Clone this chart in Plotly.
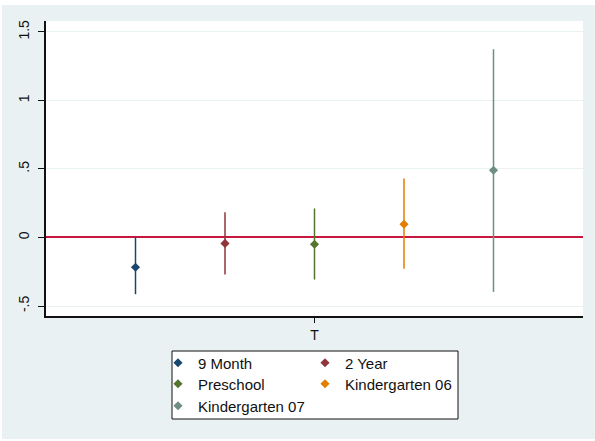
"""Coefficient plot: effect of T across survey waves (Stata coefplot style)."""

import plotly.graph_objects as go

# data
models = ["9 Month", "2 Year", "Preschool", "Kindergarten 06", "Kindergarten 07"]
estimates = [-0.217, -0.043, -0.049, 0.097, 0.491]
ci_low = [-0.414, -0.270, -0.307, -0.229, -0.397]
ci_high = [0.000, 0.184, 0.212, 0.430, 1.374]
colors = ["#1a476f", "#90353b", "#55752f", "#e37e00", "#6e8e84"]
coef_labels = ["T"]
ytick_vals = [-0.5, 0, 0.5, 1, 1.5]
ytick_text = ["-.5", "0", ".5", "1", "1.5"]

FONT = "Liberation Sans, Arial, sans-serif"
BG = "#eaf1f3"
W, H = 595, 441
L, R, T, B = 46, 12, 21, 125

# legend rows: each row gets its own legend so the two columns line up
legend_rows = ["legend", "legend", "legend2", "legend2", "legend3"]

fig = go.Figure()
n = len(models)
for i, name in enumerate(models):
    offset = i - (n - 1) / 2
    fig.add_trace(
        go.Scatter(
            x=[offset],
            y=[estimates[i]],
            mode="markers",
            name=name,
            legend=legend_rows[i],
            marker=dict(symbol="diamond", size=7, color=colors[i]),
            error_y=dict(
                type="data",
                symmetric=False,
                array=[ci_high[i] - estimates[i]],
                arrayminus=[estimates[i] - ci_low[i]],
                color=colors[i],
                thickness=1.5,
                width=0,
            ),
            showlegend=True,
        )
    )


def px_x(p):
    return (p - L) / (W - L - R)


def px_y(p):
    return (H - B - p) / (H - T - B)


legend_common = dict(
    orientation="h",
    xanchor="left",
    yanchor="middle",
    bgcolor="rgba(0,0,0,0)",
    borderwidth=0,
    entrywidth=102,
    entrywidthmode="pixels",
    font=dict(family=FONT, size=15, color="#111111"),
    itemclick=False,
)

fig.update_layout(
    width=W,
    height=H,
    margin=dict(l=L, r=R, t=T, b=B),
    paper_bgcolor="white",
    plot_bgcolor="white",
    font=dict(family=FONT, size=14, color="#222222"),
    legend=dict(x=px_x(158), y=px_y(363), **legend_common),
    legend2=dict(x=px_x(158), y=px_y(384), **legend_common),
    legend3=dict(x=px_x(158), y=px_y(406), **legend_common),
    shapes=[
        # outer graph region
        dict(type="rect", xref="paper", yref="paper", layer="below",
             x0=px_x(2), x1=px_x(W + 5), y0=px_y(439), y1=px_y(5),
             fillcolor=BG, line=dict(width=0)),
        # plot region
        dict(type="rect", xref="paper", yref="paper", layer="below",
             x0=0, x1=1, y0=0, y1=1, fillcolor="white", line=dict(width=0)),
        # legend box
        dict(type="rect", xref="paper", yref="paper", layer="below",
             x0=px_x(172), x1=px_x(458), y0=px_y(419), y1=px_y(351),
             fillcolor="white", line=dict(color="#111111", width=1)),
    ],
)

fig.update_xaxes(
    range=[-3.0, 3.0],
    tickvals=[0],
    ticktext=coef_labels,
    ticks="outside",
    ticklen=5,
    tickcolor="#111111",
    showgrid=False,
    zeroline=False,
    showline=True,
    linecolor="#111111",
    linewidth=1.5,
    tickfont=dict(family=FONT, size=14, color="#111111"),
)
fig.update_yaxes(
    range=[-0.573, 1.58],
    tickvals=ytick_vals,
    ticktext=ytick_text,
    tickangle=-90,
    ticks="outside",
    ticklen=6,
    ticklabelstandoff=4,
    tickcolor="#111111",
    showgrid=True,
    gridcolor=BG,
    gridwidth=1,
    zeroline=True,
    zerolinecolor="#c8173f",
    zerolinewidth=1.5,
    showline=True,
    linecolor="#111111",
    linewidth=1.5,
    tickfont=dict(family=FONT, size=14, color="#111111"),
)

# drop the browser's default body margin so the figure sits at the page origin
fig.write_html(
    "out.html",
    config={"displayModeBar": False},
    post_script="document.body.style.margin = '0';",
)
